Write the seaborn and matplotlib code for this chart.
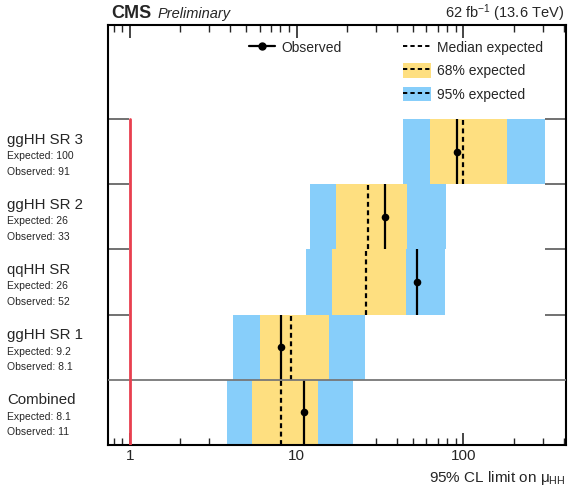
import matplotlib
matplotlib.use("Agg")
import matplotlib.pyplot as plt
import matplotlib.transforms as mtrans
from matplotlib.lines import Line2D
from matplotlib.patches import Patch
import seaborn as sns
import pandas as pd
import numpy as np

# ---- data (bottom to top) ----
categories = ["Combined", "ggHH SR 1", "qqHH SR", "ggHH SR 2", "ggHH SR 3"]
expected = [8.1, 9.2, 26, 26.7, 100]
observed = [11.1, 8.05, 52.5, 33.9, 91.2]
exp_label = ["8.1", "9.2", "26", "26", "100"]
obs_label = ["11", "8.1", "52", "33", "91"]
band68_lo = [5.37, 6.03, 16.3, 17.2, 63.1]
band68_hi = [13.5, 15.6, 45.1, 45.7, 182]
band95_lo = [3.80, 4.17, 11.4, 12.0, 43.6]
band95_hi = [21.9, 25.7, 77.6, 78.3, 309]
xticks = [1, 10, 100]
xtick_labels = ["1", "10", "100"]

df = pd.DataFrame({
    "cat": categories, "exp": expected, "obs": observed,
    "lo68": band68_lo, "hi68": band68_hi, "lo95": band95_lo, "hi95": band95_hi,
})
df["row"] = np.arange(len(df))
df["mid"] = df["row"] + 0.5

sns.set_theme(style="ticks")
plt.rcParams["font.family"] = ["Liberation Sans", "DejaVu Sans"]
plt.rcParams["mathtext.fontset"] = "custom"
plt.rcParams["mathtext.rm"] = "Liberation Sans"
plt.rcParams["mathtext.it"] = "Liberation Sans:italic"

BLUE = "#87cefa"
YELLOW = "#fedf80"
RED = "#e8404f"

fig = plt.figure(figsize=(5.8, 4.96), dpi=100)
ax = fig.add_axes([108 / 580, 1 - 445 / 496, 458 / 580, 420 / 496])

ax.barh(df["row"], df["hi95"] - df["lo95"], left=df["lo95"], height=1.0,
        align="edge", color=BLUE, linewidth=0, zorder=1)
ax.barh(df["row"], df["hi68"] - df["lo68"], left=df["lo68"], height=1.0,
        align="edge", color=YELLOW, linewidth=0, zorder=2)
ax.vlines(df["exp"], df["row"], df["row"] + 1, colors="black",
          linestyles=(0, (2.2, 1.6)), linewidth=1.6, zorder=3)
ax.vlines(df["obs"], df["row"], df["row"] + 1, colors="black",
          linewidth=1.6, zorder=4)
sns.scatterplot(data=df, x="obs", y="mid", color="black", s=30,
                edgecolor="black", linewidth=0, zorder=5, ax=ax, legend=False)

ax.axhline(1, color="#777777", linewidth=1.3, zorder=6)
ax.plot([1, 1], [0, 5], color=RED, linewidth=2, zorder=6)

ax.set_xscale("log")
ax.set_xlim(0.74, 412)
ax.set_ylim(0, 6.44)
ax.set_xticks(xticks)
ax.set_xticklabels(xtick_labels, fontsize=11)
ax.set_yticks([2, 3, 4, 5])
ax.set_yticklabels([])
ax.tick_params(axis="x", which="major", direction="in", length=9, width=1.2,
               top=True, bottom=True, pad=3)
ax.tick_params(axis="x", which="minor", direction="in", length=5, width=1.0,
               top=True, bottom=True)
ax.tick_params(axis="y", which="major", direction="in", length=15, width=1.3,
               left=True, right=True, color="#666666")
ax.set_xlabel("")
ax.set_ylabel("")
for s in ax.spines.values():
    s.set_linewidth(1.5)
    s.set_color("black")

# x label
fig.text(566 / 580, 1 - 478 / 496, "95% CL limit on μ$_{\\mathrm{HH}}$",
         ha="right", va="center", fontsize=11)

# header
fig.text(111 / 580, 1 - 18 / 496, "CMS", fontweight="bold", fontsize=13,
         ha="left", va="baseline")
fig.text(158 / 580, 1 - 18 / 496, "Preliminary", fontstyle="italic",
         fontsize=10.5, ha="left", va="baseline")
fig.text(564 / 580, 1 - 18 / 496, r"62 fb$^{-1}$ (13.6 TeV)", fontsize=10.5,
         ha="right", va="baseline")

# left labels
tr = mtrans.blended_transform_factory(fig.transFigure, ax.transData)
for i, c in enumerate(categories):
    top = i + 1
    fig.text(7 / 580, top - 0.379, c, transform=tr, fontsize=10.8,
             ha="left", va="baseline")
    fig.text(7 / 580, top - 0.613, f"Expected: {exp_label[i]}", transform=tr,
             fontsize=7.5, ha="left", va="baseline")
    fig.text(7 / 580, top - 0.854, f"Observed: {obs_label[i]}", transform=tr,
             fontsize=7.5, ha="left", va="baseline")

# legends
anchor_y = 1 - (40 - 25) / 420
h_obs = Line2D([0], [0], color="black", linewidth=1.6, marker="o",
               markersize=5)
leg1 = ax.legend([h_obs], ["Observed"], loc="upper left",
                 bbox_to_anchor=((249 - 108) / 458, anchor_y),
                 frameon=False, fontsize=10, borderpad=0, borderaxespad=0,
                 handlelength=1.9, handletextpad=0.45, handleheight=1.25)
ax.add_artist(leg1)
dash = dict(color="black", linestyle=(0, (2.2, 1.6)), linewidth=1.4)
h_med = Line2D([0], [0], **dash)
h68 = (Patch(facecolor=YELLOW, linewidth=0), Line2D([0], [0], **dash))
h95 = (Patch(facecolor=BLUE, linewidth=0), Line2D([0], [0], **dash))
ax.legend([h_med, h68, h95], ["Median expected", "68% expected", "95% expected"],
          loc="upper left",
          bbox_to_anchor=((403 - 108) / 458, anchor_y),
          frameon=False, fontsize=10, borderpad=0, borderaxespad=0,
          handlelength=2.0, handletextpad=0.45, handleheight=1.25,
          labelspacing=0.6)

fig.savefig("out.png", dpi=100)
